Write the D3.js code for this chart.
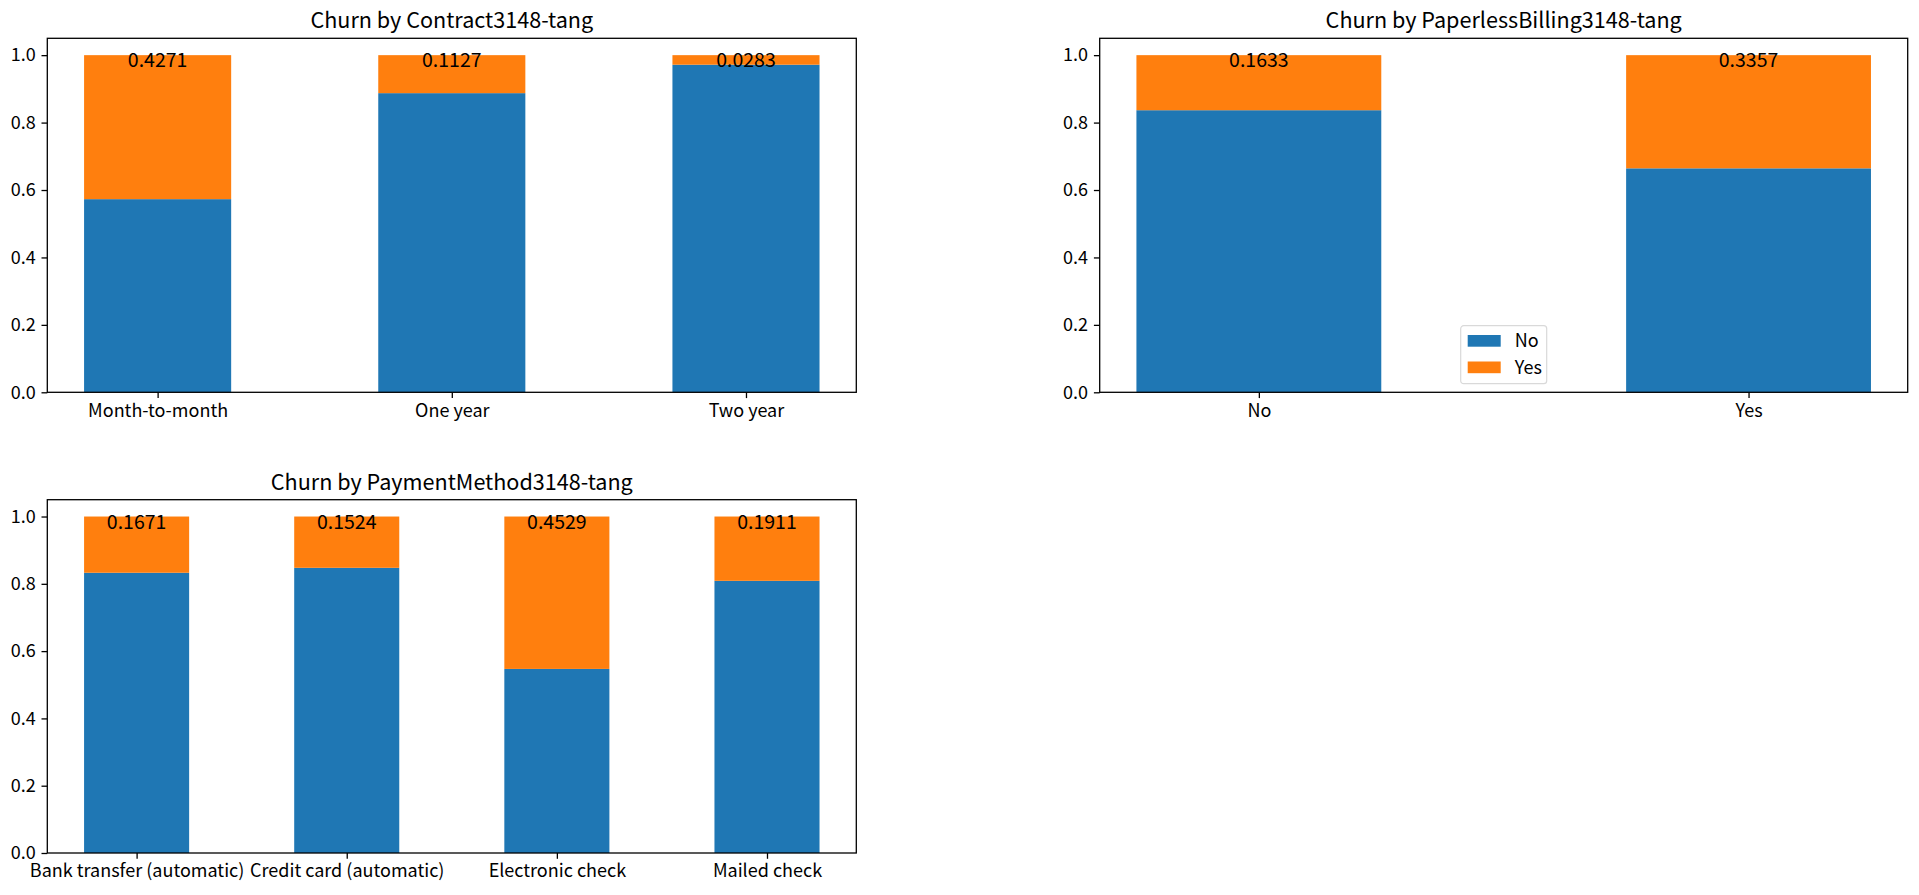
<!DOCTYPE html>
<html>
<head>
<meta charset="utf-8">
<script src="https://cdn.jsdelivr.net/npm/d3@7"></script>
<style>
  body { margin: 0; background: #fff; }
  svg text { font-family: "Noto Sans CJK SC", "Noto Sans", sans-serif; fill: #000; }
</style>
</head>
<body>
<div class="churn_chart"></div>
<script>
// data
const contractCats = ["Month-to-month", "One year", "Two year"];
const contractNo = [0.5729, 0.8873, 0.9717];
const contractYes = [0.4271, 0.1127, 0.0283];

const paperCats = ["No", "Yes"];
const paperNo = [0.8367, 0.6643];
const paperYes = [0.1633, 0.3357];

const payCats = ["Bank transfer (automatic)", "Credit card (automatic)", "Electronic check", "Mailed check"];
const payNo = [0.8329, 0.8476, 0.5471, 0.8089];
const payYes = [0.1671, 0.1524, 0.4529, 0.1911];

const legendKeys = ["No", "Yes"];
const yTicks = [0, 0.2, 0.4, 0.6, 0.8, 1.0];

const WIDTH = 1919, HEIGHT = 895;
const FONT = 18;
const BLUE = "#1f77b4", ORANGE = "#ff7f0e";
const TICK = 5.8;

const svg = d3.select(".churn_chart")
  .append("svg")
  .attr("width", WIDTH)
  .attr("height", HEIGHT);

function draw_panel(box, title, cats, no, yes, legend) {
  // bars are 0.5 wide, 5% margin of the data range on each side
  const n = cats.length;
  const pad = 0.05 * (n - 0.5);
  const x = d3.scaleLinear()
    .domain([-0.25 - pad, n - 0.75 + pad])
    .range([box.left, box.right]);
  const y = d3.scaleLinear()
    .domain([0, 1.05])
    .range([box.bottom, box.top]);
  const bw = x(0.5) - x(0);

  const g = svg.append("g");

  // No part at the bottom, Yes stacked on top
  g.selectAll(".bar-no")
    .data(no).enter()
    .append("rect")
    .attr("x", (d, i) => x(i) - bw / 2)
    .attr("y", d => y(d))
    .attr("width", bw)
    .attr("height", d => y(0) - y(d))
    .attr("fill", BLUE);

  g.selectAll(".bar-yes")
    .data(yes).enter()
    .append("rect")
    .attr("x", (d, i) => x(i) - bw / 2)
    .attr("y", (d, i) => y(no[i] + d))
    .attr("width", bw)
    .attr("height", (d, i) => y(no[i]) - y(no[i] + d))
    .attr("fill", ORANGE);

  g.selectAll(".lbl")
    .data(yes).enter()
    .append("text")
    .attr("x", (d, i) => x(i))
    .attr("y", y(1.0) + 12)
    .attr("text-anchor", "middle")
    .style("font-size", "19.5px")
    .text(d => d.toFixed(4));

  const yAxis = d3.axisLeft(y)
    .tickValues(yTicks)
    .tickFormat(d3.format(".1f"))
    .tickSize(TICK)
    .tickPadding(5.8);
  const xAxis = d3.axisBottom(x)
    .tickValues(d3.range(n))
    .tickFormat(i => cats[i])
    .tickSize(TICK)
    .tickPadding(5.8);

  const ya = g.append("g")
    .attr("transform", "translate(" + box.left + ",0)")
    .call(yAxis);
  const xa = g.append("g")
    .attr("transform", "translate(0," + box.bottom + ")")
    .call(xAxis);
  [ya, xa].forEach(a => {
    a.select(".domain").remove();
    a.selectAll(".tick line").attr("stroke", "#000").attr("stroke-width", 1.3);
    a.selectAll(".tick text")
      .style("font-size", FONT + "px")
      .style("font-family", "'Noto Sans CJK SC', 'Noto Sans', sans-serif")
      .attr("fill", "#000");
  });

  // frame
  g.append("rect")
    .attr("x", box.left)
    .attr("y", box.top)
    .attr("width", box.right - box.left)
    .attr("height", box.bottom - box.top)
    .attr("fill", "none")
    .attr("stroke", "#000")
    .attr("stroke-width", 1.3);

  g.append("text")
    .attr("x", (box.left + box.right) / 2)
    .attr("y", box.top - 10)
    .attr("text-anchor", "middle")
    .style("font-size", (FONT * 1.2) + "px")
    .text(title);

  if (legend) {
    const lw = 86, lh = 58;
    const lx = (box.left + box.right) / 2 - lw / 2;
    const ly = box.bottom - 8.6 - lh;
    const lg = g.append("g").attr("transform", "translate(" + lx + "," + ly + ")");
    lg.append("rect")
      .attr("width", lw).attr("height", lh)
      .attr("rx", 3).attr("ry", 3)
      .attr("fill", "#fff").attr("fill-opacity", 0.8)
      .attr("stroke", "#d9d9d9").attr("stroke-width", 1.2);
    const colors = [BLUE, ORANGE];
    legendKeys.forEach((k, i) => {
      lg.append("rect")
        .attr("x", 7).attr("y", 9.3 + i * 26.5)
        .attr("width", 33).attr("height", 11.7)
        .attr("fill", colors[i]);
      lg.append("text")
        .attr("x", 54).attr("y", 21 + i * 27)
        .style("font-size", FONT + "px")
        .text(k);
    });
  }
}

draw_panel({left: 47.3, right: 856.3, top: 38.3, bottom: 392.3},
  "Churn by Contract3148-tang", contractCats, contractNo, contractYes, false);
draw_panel({left: 1099.7, right: 1907.7, top: 38.3, bottom: 392.3},
  "Churn by PaperlessBilling3148-tang", paperCats, paperNo, paperYes, true);
draw_panel({left: 47.3, right: 856.3, top: 499.7, bottom: 853},
  "Churn by PaymentMethod3148-tang", payCats, payNo, payYes, false);
</script>
</body>
</html>
